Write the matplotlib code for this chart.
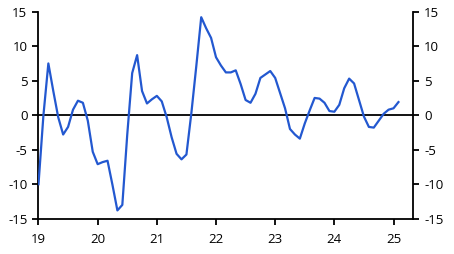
import matplotlib
matplotlib.use("Agg")
import matplotlib.pyplot as plt
import numpy as np

# ============================================================
# Data (monthly, Jan 2019 - Feb 2025)
# ============================================================

start_year = 19
values = [
    -10.0, 0.0, 7.5, 3.5, -0.3, -2.8, -1.7, 0.8, 2.1, 1.8, -0.8, -5.3,
    -7.1, -6.8, -6.6, -10.1, -13.8, -13.0, -2.8, 6.1, 8.7, 3.5, 1.7, 2.3,
    2.8, 2.0, -0.3, -3.2, -5.6, -6.4, -5.7, 0.3, 7.1, 14.2, 12.6, 11.2,
    8.4, 7.2, 6.2, 6.2, 6.5, 4.5, 2.2, 1.8, 3.1, 5.4, 5.9, 6.4,
    5.4, 3.2, 1.0, -2.0, -2.8, -3.4, -1.2, 0.7, 2.5, 2.4, 1.8, 0.6,
    0.5, 1.5, 3.9, 5.3, 4.6, 2.2, -0.2, -1.7, -1.8, -0.8, 0.2, 0.8,
    1.0, 1.9,
]
x_ticks = [19, 20, 21, 22, 23, 24, 25]
y_ticks = [-15, -10, -5, 0, 5, 10, 15]

color_line = "#2358d0"
LINE_WIDTH = 1.6

plt.rcParams["font.family"] = ["Open Sans", "DejaVu Sans"]
plt.rcParams["font.size"] = 9.5
plt.rcParams["axes.unicode_minus"] = False

dates = start_year + np.arange(len(values)) / 12.0

fig = plt.figure(figsize=(4.54, 2.54), dpi=100)
ax = fig.add_axes([0.0848, 0.139, 0.825, 0.815])

ax.plot(dates, values, color=color_line, linewidth=LINE_WIDTH, zorder=3)
ax.axhline(0, color="black", linewidth=1.3, zorder=2)

ax.set_xlim(19, 25.33)
ax.set_ylim(-15, 15)
ax.set_xticks(x_ticks)
ax.set_xticklabels([str(t) for t in x_ticks])
ax.set_yticks(y_ticks)

ax.spines["top"].set_visible(False)
for side in ["left", "right", "bottom"]:
    ax.spines[side].set_linewidth(1.3)

ax.tick_params(axis="both", direction="out", length=4, width=1.3,
               colors="black", labelsize=9.5)
ax.tick_params(axis="y", left=True, right=True, labelleft=True,
               labelright=True, pad=4)
ax.tick_params(axis="x", pad=6)

fig.savefig("out.png", dpi=100)
